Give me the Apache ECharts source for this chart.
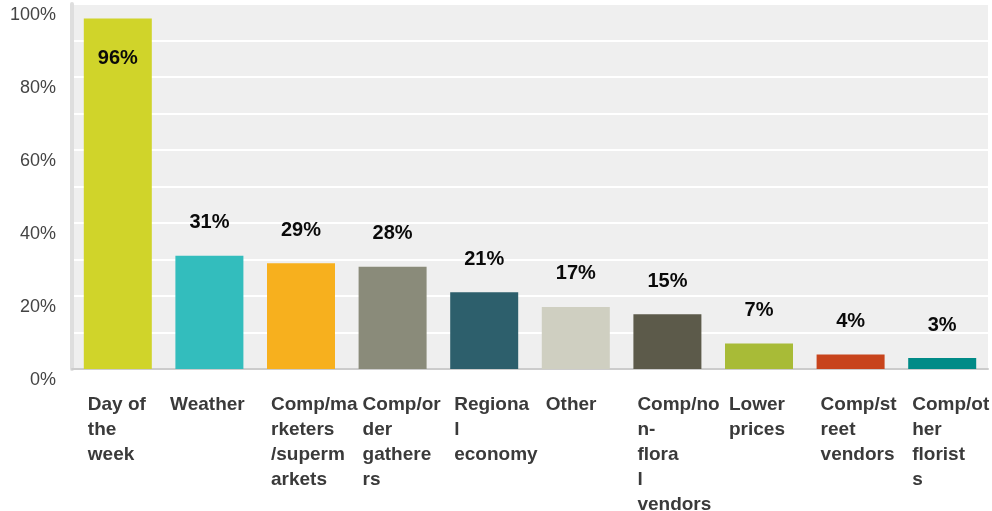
<!DOCTYPE html>
<html>
<head>
<meta charset="utf-8">
<script src="https://cdn.jsdelivr.net/npm/echarts@6/dist/echarts.min.js"></script>
<style>
  html, body { margin: 0; padding: 0; background: #fff; }
  #chart { width: 992px; height: 511px; }
</style>
</head>
<body>
<div id="chart"></div>
<script>
// categories as they wrap in the original chart
const categories = [
  'Day of\nthe\nweek',
  'Weather',
  'Comp/ma\nrketers\n/superm\narkets',
  'Comp/or\nder\ngathere\nrs',
  'Regiona\nl\neconomy',
  'Other',
  'Comp/no\nn-\nflora\nl\nvendors',
  'Lower\nprices',
  'Comp/st\nreet\nvendors',
  'Comp/ot\nher\nflorist\ns'
];
const values = [96, 31, 29, 28, 21, 17, 15, 7, 4, 3];
const barColors = ['#d0d42a', '#33bdbd', '#f7b01e', '#8a8b7a', '#2d5f6c',
  '#cfcfc1', '#5c5a4a', '#a8bb37', '#c8441c', '#008b87'];
const yTicks = [0, 20, 40, 60, 80, 100];

const chart = echarts.init(document.getElementById('chart'));

const option = {
  backgroundColor: '#ffffff',
  animation: false,
  grid: {
    left: 72,
    right: 4,
    top: 4,
    bottom: 142,
    outerBoundsMode: 'none',
    containLabel: false,
    show: true,
    backgroundColor: '#efefef',
    borderWidth: 0
  },
  xAxis: {
    type: 'category',
    data: categories.map(c => c === 'Weather'
      ? { value: c, textStyle: { align: 'center', padding: [0, 4, 0, 0] } }
      : c),
    axisTick: { show: false },
    axisLine: { lineStyle: { color: '#cccccc', width: 2 } },
    axisLabel: {
      interval: 0,
      align: 'left',
      verticalAlign: 'top',
      margin: 23,
      padding: [0, 0, 0, -30],
      color: '#3a3a3a',
      fontFamily: 'Liberation Sans, Arial, sans-serif',
      fontWeight: 'bold',
      fontSize: 19,
      lineHeight: 25
    }
  },
  yAxis: {
    type: 'value',
    min: 0,
    max: 100,
    interval: 10,
    axisLine: { show: true, lineStyle: { color: '#dedede', width: 4 } },
    axisTick: { show: false },
    splitLine: { lineStyle: { color: '#ffffff', width: 2 } },
    axisLabel: {
      margin: 16,
      color: '#444444',
      fontFamily: 'Liberation Sans, Arial, sans-serif',
      fontSize: 18,
      verticalAlign: 'top',
      padding: [2, 0, 0, 0],
      formatter: v => yTicks.includes(v) ? v + '%' : ''
    }
  },
  series: [
    {
      type: 'bar',
      barWidth: 68,
      data: values.map((v, i) => ({
        value: v,
        itemStyle: { color: barColors[i] },
        label: i === 0 ? { position: 'insideTop', distance: 30 } : {}
      })),
      label: {
        show: true,
        position: 'top',
        distance: 23,
        formatter: '{c}%',
        color: '#0a0a0a',
        fontFamily: 'Liberation Sans, Arial, sans-serif',
        fontWeight: 'bold',
        fontSize: 20
      }
    }
  ]
};

chart.setOption(option);
</script>
</body>
</html>
